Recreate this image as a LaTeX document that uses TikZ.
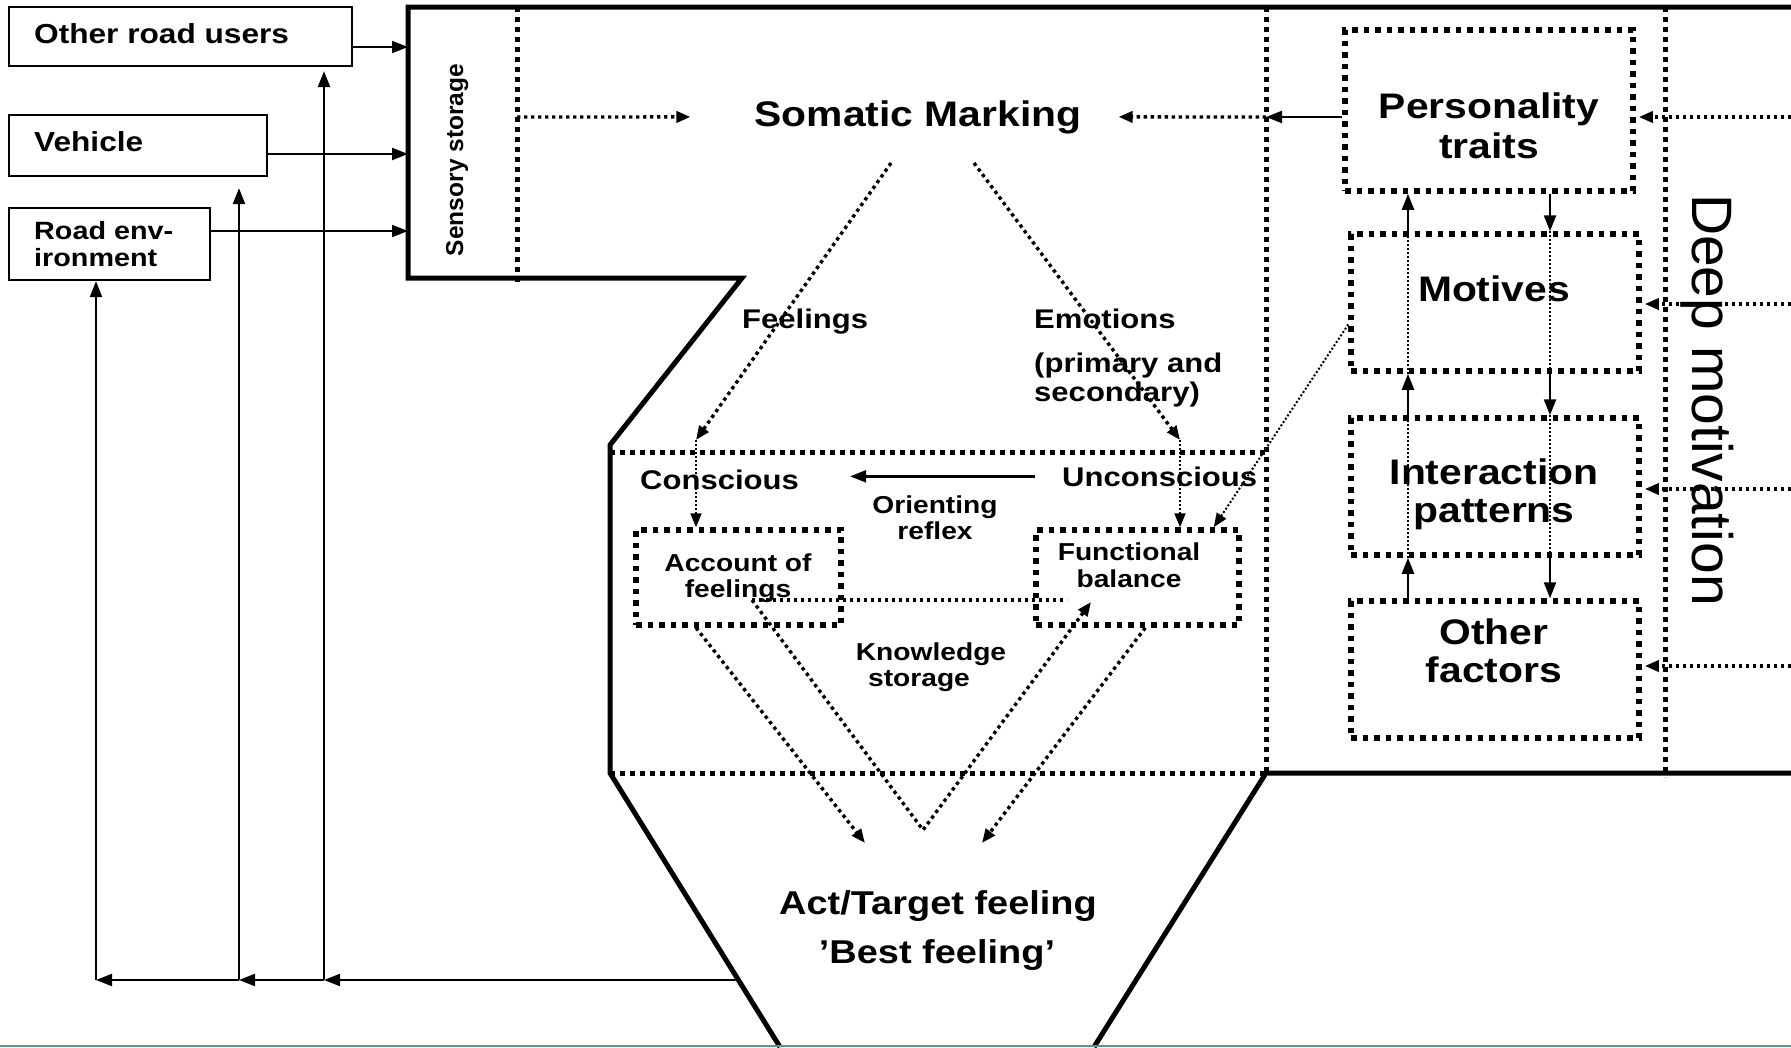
\documentclass[tikz,border=0pt]{standalone}
\usepackage{fontspec}
\setmainfont{Liberation Sans}[FakeStretch=1.15]
\newfontfamily\deepfont{Liberation Sans}
\newfontfamily\sensfont{Liberation Sans}
\usetikzlibrary{arrows.meta,calc}
\definecolor{baserule}{RGB}{86,152,138}
\newcommand{\fsz}[1]{\fontsize{#1}{#1}\selectfont}

\begin{document}
\begin{tikzpicture}[x=1pt,y=-1pt,
  frameln/.style={line width=5pt},
  srcbox/.style={draw, line width=2.2pt, inner sep=0pt},
  dotbox/.style={draw, line width=5.5pt, dash pattern=on 5.5pt off 6pt, inner sep=0pt},
  bigdots/.style={line width=5pt, dash pattern=on 5pt off 5pt},
  meddots/.style={line width=3.4pt, dash pattern=on 3.4pt off 3.6pt},
  finedots/.style={line width=2pt, dash pattern=on 2pt off 2pt},
  solidln/.style={line width=2.3pt},
  arr/.style={-{Triangle[length=16pt,width=12pt]}},
  sarr/.style={-{Triangle[length=14pt,width=11pt]}},
  txt/.style={inner sep=0pt, font=\bfseries\fsz{27}},
  smalltxt/.style={inner sep=0pt, font=\bfseries\fsz{24.5}},
  bigtxt/.style={inner sep=0pt, font=\bfseries\fsz{35.5}},
]
\useasboundingbox (0,0) rectangle (1791,1047);

% ---- outer frame of the model ----
\draw[frameln] (1791,7) -- (408,7) -- (408,278) -- (742,278) -- (610,445)
  -- (610,773) -- (780,1047);
\draw[frameln] (1094,1047) -- (1266,773) -- (1791,773);

% ---- inner dotted partitions ----
\draw[bigdots] (517,7) -- (517,282);
\draw[bigdots] (1266,7) -- (1266,773);
\draw[bigdots] (1665,7) -- (1665,777);
\draw[bigdots] (610,452) -- (1266,452);
\draw[bigdots] (610,773) -- (1266,773);

% ---- input boxes ----
\node[srcbox, minimum width=343pt, minimum height=59pt] (oru) at (180.5,36.5) {};
\node[srcbox, minimum width=258pt, minimum height=61pt] (veh) at (138,145.5) {};
\node[srcbox, minimum width=201pt, minimum height=72pt] (renv) at (109.5,244) {};
\node[txt, anchor=base west, font=\bfseries\fsz{27.5}] (orut) at (34,43) {Other road users};
\node[txt, anchor=base west, font=\bfseries\fsz{27.5}] (veht) at (34,151) {Vehicle};
\node[txt, anchor=base west, font=\bfseries\fsz{25}] (renvt1) at (34,239) {Road env-};
\node[txt, anchor=base west, font=\bfseries\fsz{25}] (renvt2) at (34,266) {ironment};

% ---- rotated labels ----
\node[inner sep=0pt, rotate=90, anchor=base, font=\sensfont\bfseries\fsz{24.5}] (sst) at (463,160) {Sensory storage};
\node[inner sep=0pt, rotate=-90, anchor=base, font=\deepfont\fsz{57}] (deep) at (1692,400) {Deep motivation};

% ---- deep motivation boxes ----
\node[dotbox, minimum width=288pt, minimum height=161pt] (pt) at (1489,110.5) {};
\node[dotbox, minimum width=288pt, minimum height=137pt] (mot) at (1495,302.5) {};
\node[dotbox, minimum width=288pt, minimum height=137pt] (ip) at (1495,486.5) {};
\node[dotbox, minimum width=288pt, minimum height=137pt] (of) at (1495,669.5) {};
\node[bigtxt, anchor=base] (ptt1) at (1489,118) {Personality};
\node[bigtxt, anchor=base] (ptt2) at (1489,158) {traits};
\node[bigtxt, anchor=base] (mott) at (1494,301) {Motives};
\node[bigtxt, anchor=base] (ipt1) at (1494,484) {Interaction};
\node[bigtxt, anchor=base] (ipt2) at (1494,522) {patterns};
\node[bigtxt, anchor=base] (oft1) at (1494,644) {Other};
\node[bigtxt, anchor=base] (oft2) at (1494,682) {factors};

% ---- inner boxes ----
\node[dotbox, minimum width=205pt, minimum height=95pt] (aof) at (738.5,577.5) {};
\node[dotbox, minimum width=203pt, minimum height=95pt] (fb) at (1137.5,577.5) {};

% ---- labels in the central area ----
\node[bigtxt, anchor=base] (sm) at (918,126) {Somatic Marking};
\node[txt, anchor=base west] (feel) at (742,328) {Feelings};
\node[txt, anchor=base west] (emo) at (1034,328) {Emotions};
\node[txt, anchor=base west] (emo2) at (1034,372) {(primary and};
\node[txt, anchor=base west] (emo3) at (1034,401) {secondary)};
\node[txt, anchor=base west] (con) at (640,489) {Conscious};
\node[txt, anchor=base west] (unc) at (1062,486) {Unconscious};
\node[smalltxt, anchor=base] (ori1) at (935,513) {Orienting};
\node[smalltxt, anchor=base] (ori2) at (935,539) {reflex};
\node[smalltxt, anchor=base] (aoft1) at (738,571) {Account of};
\node[smalltxt, anchor=base] (aoft2) at (738,597) {feelings};
\node[smalltxt, anchor=base] (fbt1) at (1129,560) {Functional};
\node[smalltxt, anchor=base] (fbt2) at (1129,587) {balance};
\node[smalltxt, anchor=base] (ks1) at (931,660) {Knowledge};
\node[smalltxt, anchor=base] (ks2) at (919,686) {storage};
\node[inner sep=0pt, font=\bfseries\fsz{33}, anchor=base] (act1) at (938,914) {Act/Target feeling};
\node[inner sep=0pt, font=\bfseries\fsz{33}, anchor=base] (act2) at (937,963) {’Best feeling’};

% ---- inputs into sensory storage ----
\coordinate (in1) at (408,47);
\coordinate (in2) at (408,154);
\coordinate (in3) at (408,231);
\draw[solidln,arr] (oru.east |- in1) -- (in1);
\draw[solidln,arr] (veh.east |- in2) -- (in2);
\draw[solidln,arr] (renv.east |- in3) -- (in3);

% ---- feedback from the act ----
\coordinate (fbs) at (738,980);
\coordinate (j1) at (324,980);
\coordinate (j2) at (239,980);
\coordinate (j3) at (96,980);
\draw[solidln,arr] (fbs) -- (j1);
\draw[solidln,arr] (j1) -- (j2);
\draw[solidln,arr] (j2) -- (j3);
\draw[solidln,arr,shorten >=4pt] (j1) -- (j1 |- oru.south);
\draw[solidln,arr,shorten >=11pt] (j2) -- (j2 |- veh.south);
\draw[solidln,arr] (j3) -- (j3 |- renv.south);

% ---- into somatic marking ----
\coordinate (ssv) at (517,117);
\coordinate (dmv) at (1266,117);
\draw[meddots,sarr,shorten >=64pt] (ssv) -- (sm.west);
\draw[meddots,sarr,shorten >=37pt] (dmv) -- (sm.east);
\draw[solidln,arr] (pt.west |- dmv) -- (dmv);

% ---- deep motivation inputs from the right ----
\coordinate (e1) at (1791,117);
\coordinate (e2) at (1791,304);
\coordinate (e3) at (1791,489);
\coordinate (e4) at (1791,666);
\draw[meddots,sarr,shorten >=3pt] (e1) -- (pt.east |- e1);
\draw[meddots,sarr,shorten >=3pt] (e2) -- (mot.east |- e2);
\draw[meddots,sarr,shorten >=3pt] (e3) -- (ip.east |- e3);
\draw[meddots,sarr,shorten >=3pt] (e4) -- (of.east |- e4);

% ---- links between the motivation boxes ----
\coordinate (upx) at (1408,0);
\coordinate (dnx) at (1550,0);
\draw[solidln,arr] (dnx |- pt.south) -- (dnx |- mot.north);
\draw[finedots] (dnx |- mot.north) -- (dnx |- mot.south);
\draw[solidln,arr] (dnx |- mot.south) -- (dnx |- ip.north);
\draw[finedots] (dnx |- ip.north) -- (dnx |- ip.south);
\draw[solidln,arr] (dnx |- ip.south) -- (dnx |- of.north);
\draw[solidln,arr] (upx |- of.north) -- (upx |- ip.south);
\draw[finedots] (upx |- ip.south) -- (upx |- ip.north);
\draw[solidln,arr] (upx |- ip.north) -- (upx |- mot.south);
\draw[finedots] (upx |- mot.south) -- (upx |- mot.north);
\draw[solidln,arr] (upx |- mot.north) -- (upx |- pt.south);

% ---- feelings and emotions ----
\coordinate (fs0) at (891,163);
\coordinate (fa) at (696,440);
\coordinate (es0) at (974,163);
\coordinate (ea) at (1180,440);
\draw[meddots,sarr] (fs0) -- (fa);
\draw[finedots,sarr] (fa) -- (fa |- aof.north);
\draw[meddots,sarr] (es0) -- (ea);
\draw[finedots,sarr] (ea) -- (ea |- fb.north);
\draw[finedots,sarr] ($(mot.west)+(0,22)$) -- ($(fb.north east)+(-28,0)$);

% ---- orienting reflex ----
\draw[solidln,arr,shorten <=27pt,shorten >=51pt] (unc.west) -- (con.east |- unc.west);

% ---- knowledge storage and the act ----
\coordinate (kl) at (752,600);
\coordinate (kr) at (1067,600);
\coordinate (vb) at (923,830);
\coordinate (vt) at (1091,602);
\coordinate (t1) at (865,843);
\coordinate (t2) at (982,843);
\draw[meddots] (kl) -- (kr);
\draw[meddots,sarr] (kl) -- (vb) -- (vt);
\draw[meddots,sarr] (fa |- aof.south) -- (t1);
\draw[meddots,sarr] ($(fb.south west)+(112,0)$) -- (t2);

% ---- base rule ----
\draw[baserule, line width=2.5pt] (0,1045.75) -- (1791,1045.75);
\end{tikzpicture}
\end{document}
